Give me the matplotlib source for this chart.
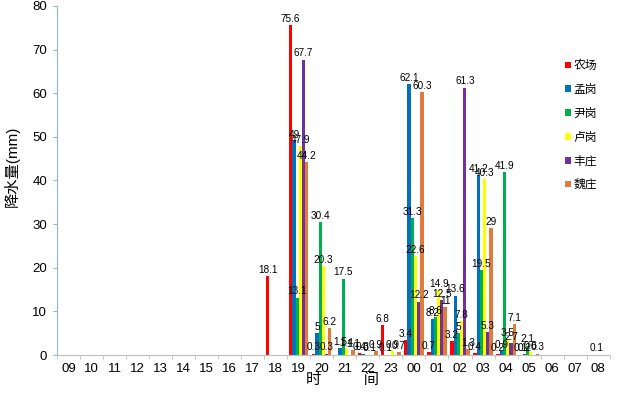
import numpy as np
import matplotlib
matplotlib.use('Agg')
import matplotlib.pyplot as plt

plt.rcParams['font.family'] = ['Liberation Sans', 'Noto Sans CJK SC']

hours = ['09', '10', '11', '12', '13', '14', '15', '16', '17', '18', '19', '20',
         '21', '22', '23', '00', '01', '02', '03', '04', '05', '06', '07', '08']

stations = ['农场', '孟岗', '尹岗', '卢岗', '丰庄', '魏庄']
colors = ['#ff0000', '#0070c0', '#00b050', '#ffff00', '#7030a0', '#e07b39']

# 每小时降水量 (mm)，顺序与 hours 一致
nongchang = [0, 0, 0, 0, 0, 0, 0, 0, 0, 18.1, 75.6, 0.3, 0, 0.4, 6.8, 3.4, 0.7, 3.2, 0.4, 0.2, 0.1, 0, 0, 0]
menggang  = [0, 0, 0, 0, 0, 0, 0, 0, 0, 0, 49, 5, 1.5, 0.3, 0.1, 62.1, 8.2, 13.6, 41.2, 0.9, 0.2, 0, 0, 0]
yingang   = [0, 0, 0, 0, 0, 0, 0, 0, 0, 0, 13.1, 30.4, 17.5, 0, 0, 31.3, 8.6, 5, 19.5, 41.9, 2.1, 0, 0, 0.1]
lugang    = [0, 0, 0, 0, 0, 0, 0, 0, 0, 0, 47.9, 20.3, 1.4, 0.1, 0.9, 22.6, 14.9, 7.8, 40.3, 3.5, 0.6, 0, 0, 0]
fengzhuang = [0, 0, 0, 0, 0, 0, 0, 0, 0, 0, 67.7, 0.3, 0, 0, 0, 12.2, 12.5, 61.3, 5.3, 2.7, 0, 0, 0, 0]
weizhuang = [0, 0, 0, 0, 0, 0, 0, 0, 0, 0, 44.2, 6.2, 1.1, 0.9, 0.7, 60.3, 11, 1.3, 29, 7.1, 0.3, 0, 0, 0]

series = [nongchang, menggang, yingang, lugang, fengzhuang, weizhuang]

fig = plt.figure(figsize=(6.19, 3.98), dpi=100)
ax = fig.add_axes([0.092, 0.108, 0.893, 0.877])

x = np.arange(len(hours))
w = 0.14
for k, (name, vals, c) in enumerate(zip(stations, series, colors)):
    bars = ax.bar(x + (k - 2.5) * w, vals, w, color=c, label=name)
    labels = [f'{v:g}' if v > 0 else '' for v in vals]
    ax.bar_label(bars, labels=labels, fontsize=7.2, padding=1)

ax.set_xlim(-0.5, len(hours) - 0.5)
ax.set_ylim(0, 80)
ax.set_yticks(range(0, 81, 10))
ax.set_xticks(x)
ax.set_xticklabels(hours, fontsize=9.5)
ax.set_xticks(np.arange(-0.5, len(hours), 1), minor=True)
ax.tick_params(axis='x', which='major', length=0, pad=6)
ax.tick_params(axis='x', which='minor', length=3, color='#bfbfbf')
ax.tick_params(axis='y', labelsize=9.5, length=3, color='#95b3d7', pad=4)

ax.spines['top'].set_visible(False)
ax.spines['right'].set_visible(False)
ax.spines['left'].set_color('#95b3d7')
ax.spines['bottom'].set_color('#bfbfbf')

ax.set_ylabel('降水量(mm)', fontsize=11)
ax.yaxis.set_label_coords(-0.068, 0.54)
fig.text(0.553, 0.035, '时          间', fontsize=11, ha='center')

ax.legend(loc='upper left', bbox_to_anchor=(0.9, 0.875), frameon=False,
          fontsize=8.5, handlelength=0.5, handleheight=0.5, handletextpad=0.2,
          labelspacing=1.0)

plt.savefig('out.png', dpi=100)
